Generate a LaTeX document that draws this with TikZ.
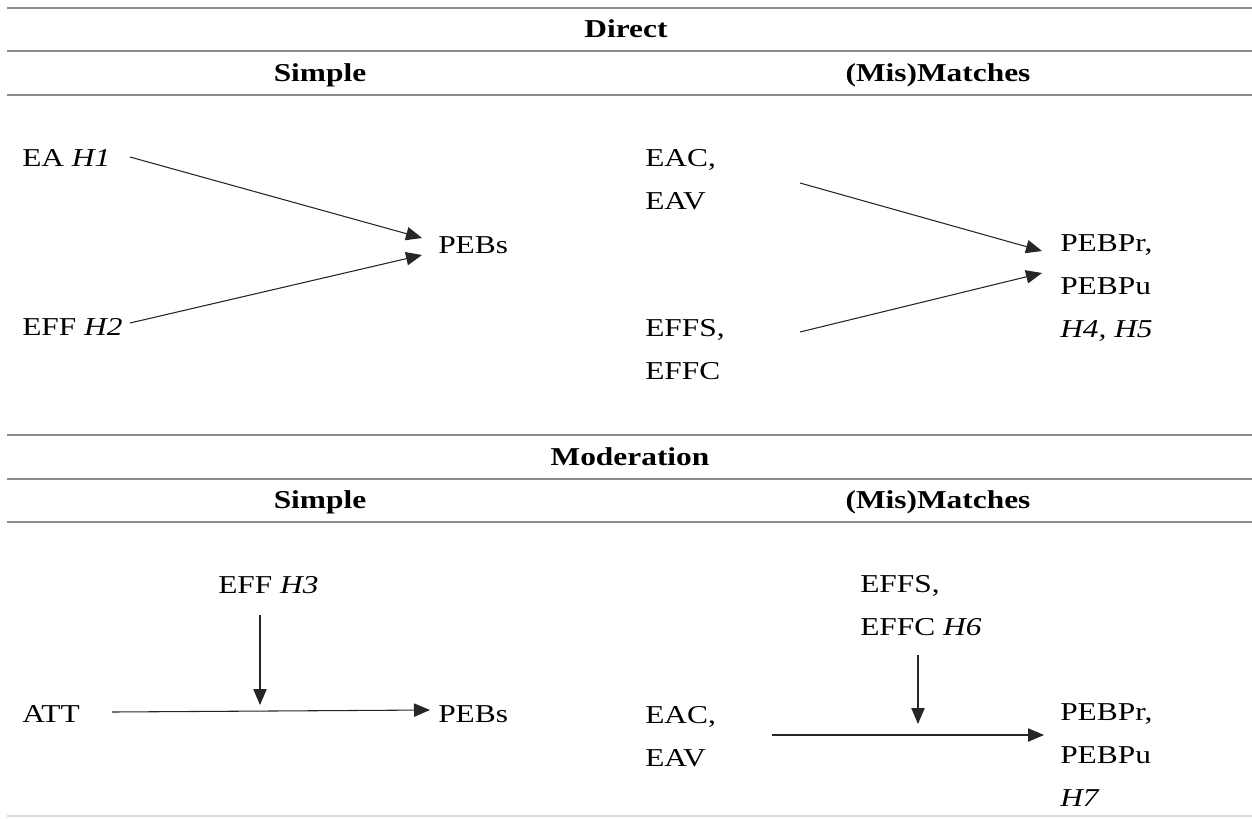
\documentclass[tikz,border=0pt]{standalone}
\usepackage{fontspec}
\setmainfont{Liberation Serif}[FakeStretch=1.22]
\usetikzlibrary{arrows.meta}
\begin{document}
\begin{tikzpicture}[x=0.75pt,y=-0.75pt,
  txt/.style={inner sep=0pt, font=\fontsize{19.3}{32.25}\selectfont, align=left, anchor=base west},
  hd/.style={inner sep=0pt, font=\fontsize{19.3}{23}\selectfont\bfseries, anchor=base},
  rule/.style={line width=1.6pt, draw=black!45},
  lastrule/.style={line width=1pt, draw=black!15},
  arr/.style={draw=black!85, line width=0.8pt, -{Triangle[length=12pt,width=10pt]}}]
\useasboundingbox (0,0) rectangle (1252,818);
% rules
\draw[rule] (7,8) -- (1252,8);
\draw[rule] (7,51) -- (1252,51);
\draw[rule] (7,95) -- (1252,95);
\draw[rule] (7,435) -- (1252,435);
\draw[rule] (7,479) -- (1252,479);
\draw[rule] (7,522) -- (1252,522);
\draw[lastrule] (7,816) -- (1252,816);
% headings
\node[hd] (hdirect) at (626,37) {Direct};
\node[hd] (hsimple1) at (320,81) {Simple};
\node[hd] (hmis1) at (938,81) {(Mis)Matches};
\node[hd] (hmod) at (630,465) {Moderation};
\node[hd] (hsimple2) at (320,508) {Simple};
\node[hd] (hmis2) at (938,508) {(Mis)Matches};
% Direct / simple
\node[txt] (ea) at (22,166) {EA \textit{H1}};
\node[txt] (eff) at (22,335) {EFF \textit{H2}};
\node[txt] (pebs1) at (438,253) {PEBs};
\coordinate (a1s) at (130,157);
\coordinate (a1e) at (422,238);
\coordinate (a2s) at (130,323);
\coordinate (a2e) at (422,255);
\draw[arr] (a1s) -- (a1e);
\draw[arr] (a2s) -- (a2e);
% Direct / mismatches (base anchor = last line)
\node[txt] (eac1) at (645,209) {EAC,\\EAV};
\node[txt] (effs1) at (645,379) {EFFS,\\EFFC};
\node[txt] (pebp1) at (1060,337) {PEBPr,\\PEBPu\\\textit{H4, H5}};
\coordinate (a3s) at (800,183);
\coordinate (a3e) at (1042,251);
\coordinate (a4s) at (800,332);
\coordinate (a4e) at (1042,273);
\draw[arr] (a3s) -- (a3e);
\draw[arr] (a4s) -- (a4e);
% Moderation / simple
\node[txt] (eff3) at (218,593) {EFF \textit{H3}};
\node[txt] (att) at (22,722) {ATT};
\node[txt] (pebs2) at (438,722) {PEBs};
\coordinate (a5s) at (260,615);
\coordinate (a5e) at (260,705);
\coordinate (a6s) at (112,712);
\coordinate (a6e) at (430,710);
\draw[arr] (a5s) -- (a5e);
\draw[arr] (a6s) -- (a6e);
% Moderation / mismatches
\node[txt] (effs2) at (860,635) {EFFS,\\EFFC \textit{H6}};
\node[txt] (eac2) at (645,766) {EAC,\\EAV};
\node[txt] (pebp2) at (1060,806) {PEBPr,\\PEBPu\\\textit{H7}};
\coordinate (a7s) at (918,655);
\coordinate (a7e) at (918,724);
\coordinate (a8s) at (772,735);
\coordinate (a8e) at (1044,735);
\draw[arr] (a7s) -- (a7e);
\draw[arr] (a8s) -- (a8e);
\end{tikzpicture}
\end{document}
